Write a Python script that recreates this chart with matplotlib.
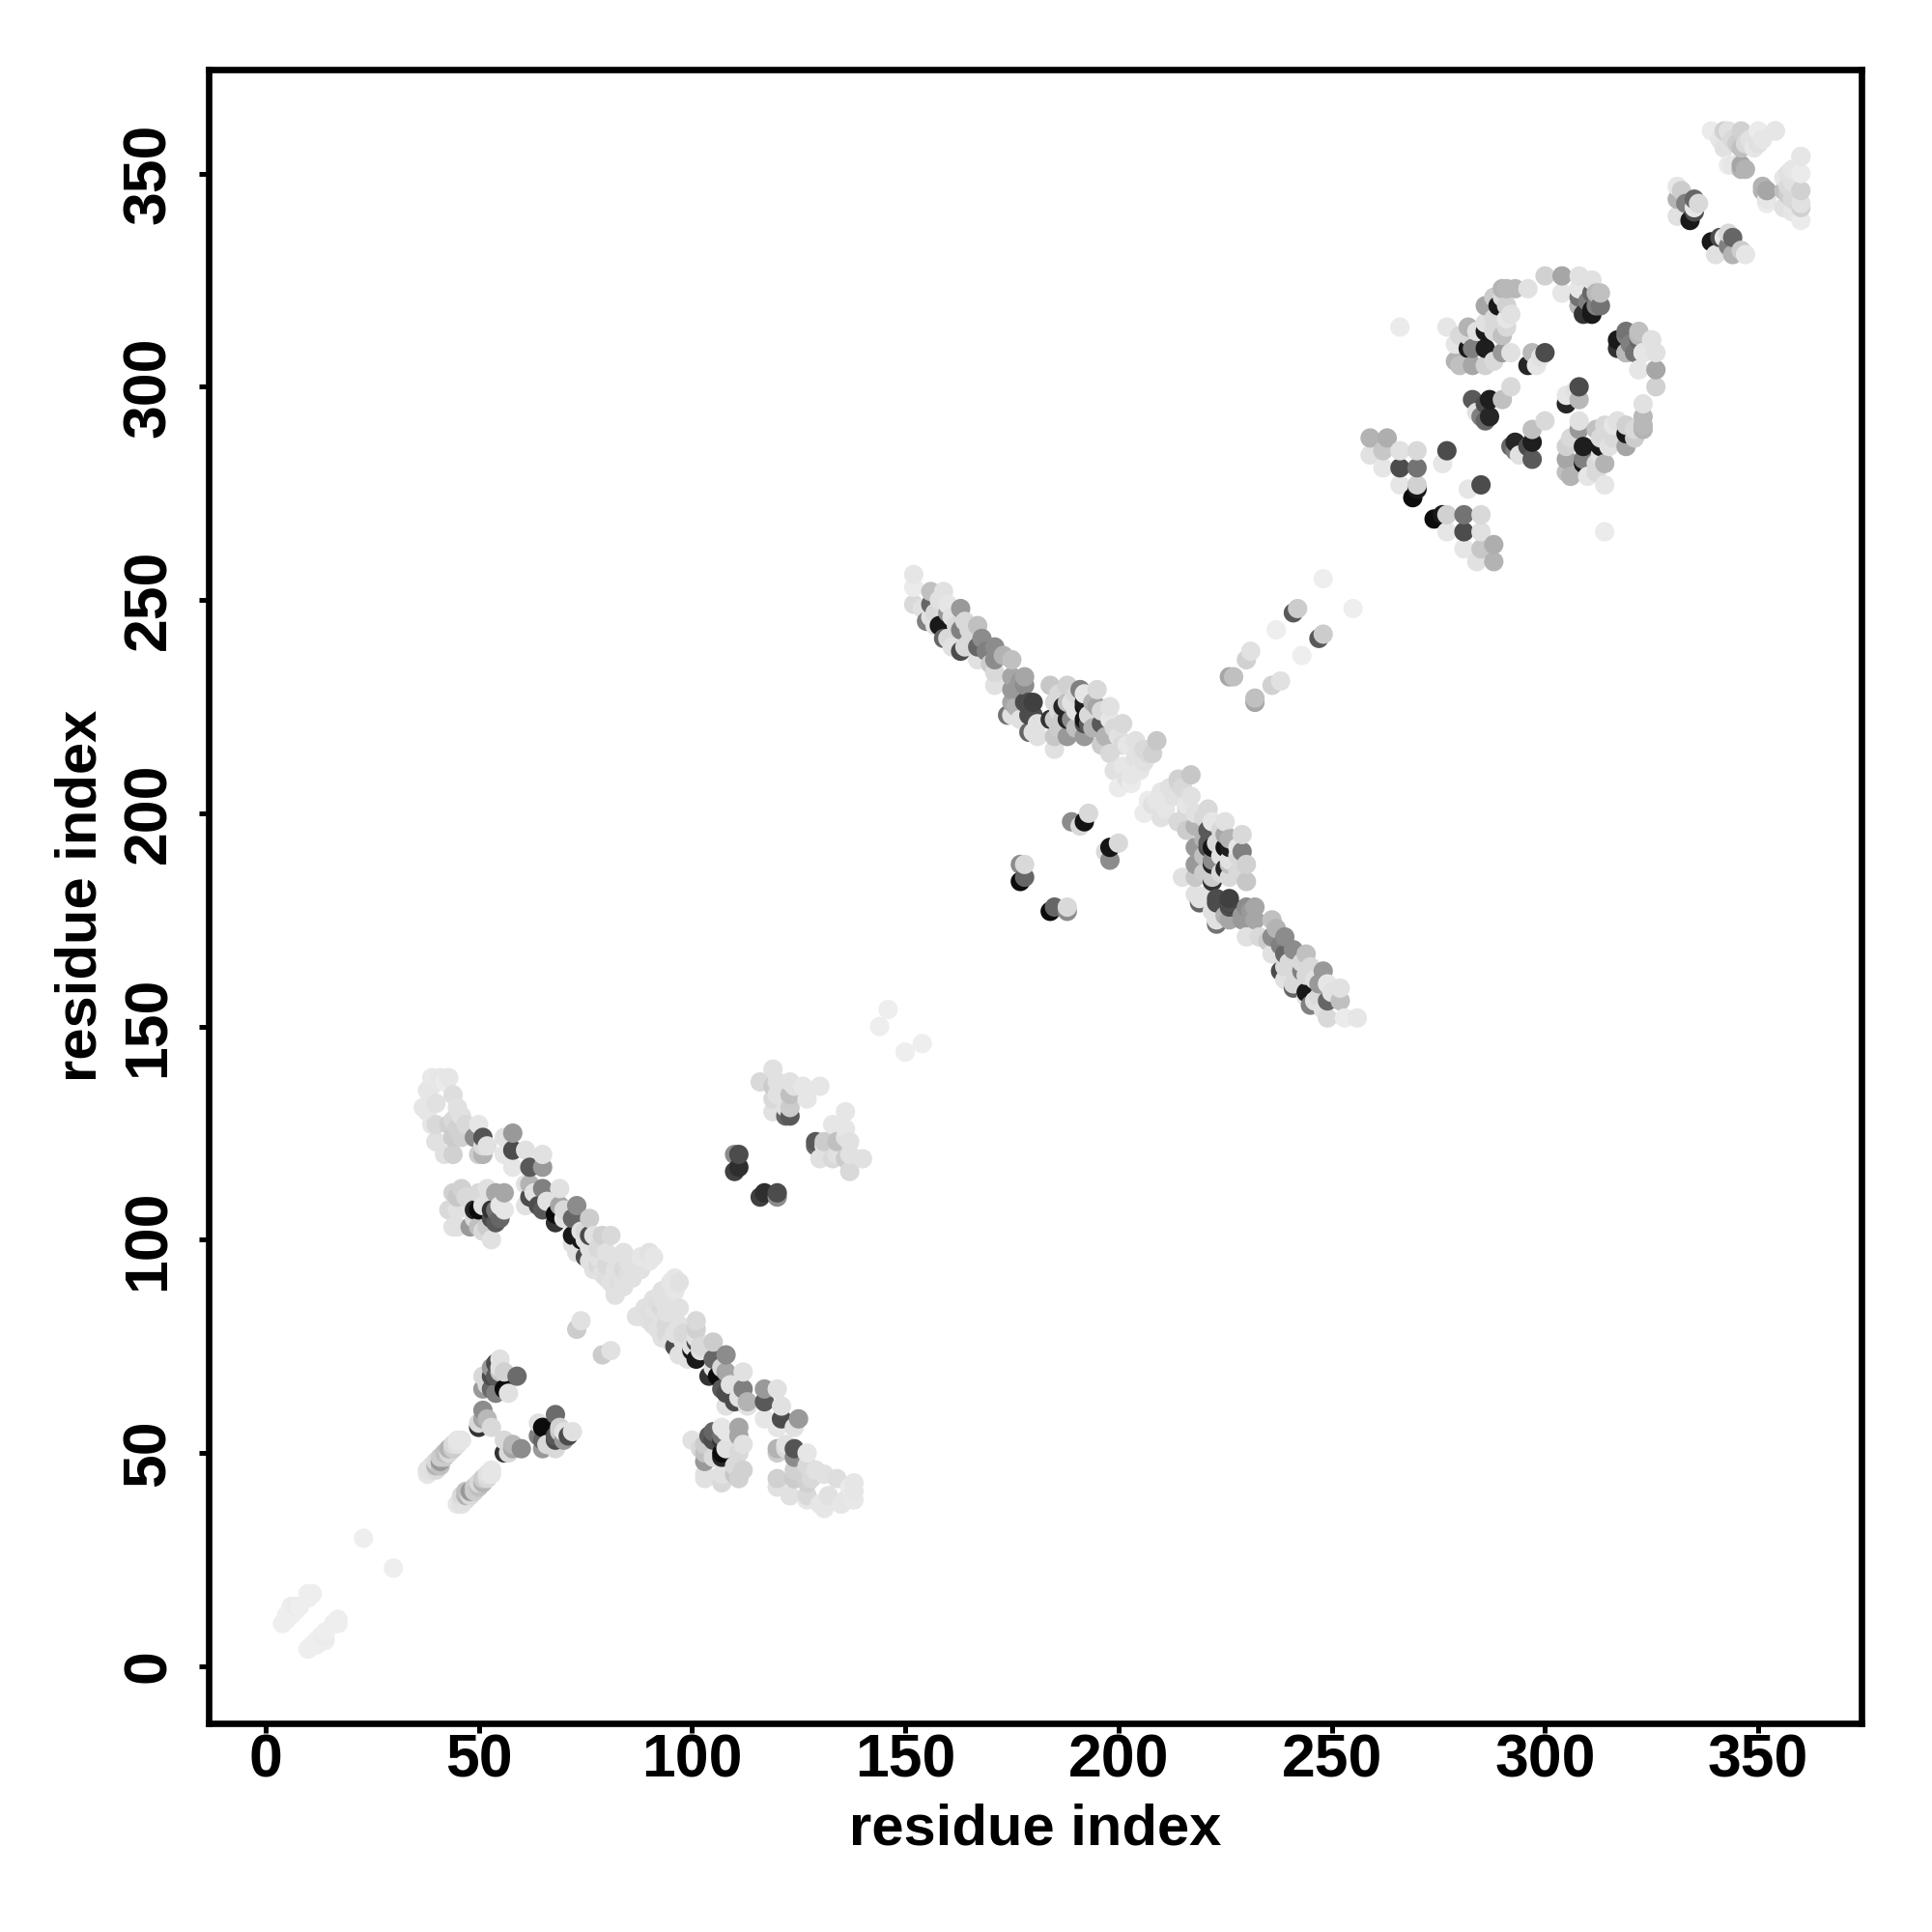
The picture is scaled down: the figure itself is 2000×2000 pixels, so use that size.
import numpy as np
import matplotlib
matplotlib.use('Agg')
import matplotlib.pyplot as plt

plt.rcParams['font.family'] = ['Liberation Sans', 'DejaVu Sans']
plt.rcParams['font.weight'] = 'bold'

# contacts (i, j, grey) with i < j, the map is symmetric so they get mirrored below
start_stripes = [(4,10,.93),(5,12,.93),(6,13,.93),(6,14,.93),(10,16,.93),(11,17,.93),(10,17,.93),(23,30,.93),
                 (5,11,.93),(6,12,.93),(7,13,.93),(7,14,.92),(8,14,.93)]

sheet_a = [(39,138,.91),(43,138,.9),(38,135,.9),(44,134,.87),(37,131,.9),(40,132,.88),(45,131,.88),
           (40,127,.85),(43,127,.82),(47,127,.85),(50,127,.9),(40,123,.9),(44,124,.78),(49,124,.55),
           (51,124,.33),(44,120,.82),(42,120,.88),(51,120,.7),(51,122,.85),(50,120,.8),(44,124,.8),
           (40,123,.88),(39,127,.9),(42,137,.92),(44,128,.85),(46,129,.88),(45,126,.82),(46,124,.82),
           (52,122,.88),(38,130,.9),(39,136,.9),(41,138,.9)]

band_a = [(58,125,.6),(56,124,.88),(58,121,.3),(61,121,.88),(65,120,.88),(56,120,.9),(62,117,.35),
          (65,117,.6),(58,117,.9),(62,113,.7),(65,112,.5),(69,112,.88),(62,110,.3),(61,108,.88),
          (65,107,.35),(69,108,.65),(73,108,.55),(68,106,.05),(72,105,.4),(76,105,.8),(68,104,.2),
          (72,101,.1),(79,101,.82),(81,101,.85),(76,101,.3),(74,100,.1),(75,96,.3),(73,97,.88),
          (78,98,.85),(84,97,.88),(91,96,.9),(88,96,.9),(80,94,.85),(82,93,.88),(86,93,.88),
          (77,93,.88),(82,88,.88),(80,91,.87),(82,87,.88),(84,89,.88),(86,91,.88),(88,93,.88),
          (90,95,.9),(90,97,.88),(83,90,.87),(85,92,.87),(75,100,.88),(64,108,.3),(61,113,.88),
          (70,107,.85),(74,102,.88),(70,105,.88),(75,102,.85),(77,101,.88),(76,98,.88),
          (63,111,.88),(66,109,.88),(72,99,.88),(78,96,.88),(80,97,.88),(83,94,.88),
          (85,95,.88),(79,92,.88),(81,90,.88),(84,91,.88),(87,94,.88),(89,96,.9),(76,95,.88),
          (78,94,.85),(84,93,.85)]

block_a = [(44,111,.82),(45,110,.78),(43,107,.85),(45,107,.88),(45,103,.88),(48,103,.6),(50,103,.75),
           (50,111,.85),(54,111,.65),(56,111,.65),(50,107,.05),(51,108,.88),(53,107,.2),(54,107,.45),
           (56,107,.9),(54,104,.35),(53,100,.88),(49,105,.85),(52,103,.8),(44,103,.88),(49,107,.15),
           (47,110,.85),(46,112,.82),(52,112,.88),(55,108,.9),(53,105,.3),(55,105,.4),(51,102,.85)]

near_a = [(55,72,.88),(54,71,.3),(51,68,.85),(56,69,.82),(54,68,.35),(59,68,.42),(51,65,.6),(54,64,.5),
          (56,65,.05),(57,64,.88),(51,60,.55),(52,58,.72),(50,56,.2),(55,69,.78),(53,68,.3),(53,65,.4),
          (51,58,.65),(46,53,.9),(44,52,.85),(42,50,.75),(40,47,.7),(38,46,.88),(45,53,.9),(41,48,.6),
          (43,51,.7),(39,47,.88),(74,81,.88),(73,79,.8),(40,48,.85),(41,49,.8),(42,49,.8),(43,50,.85),
          (44,51,.8),(45,52,.88),(39,46,.88),(40,46,.85),(38,45,.9),(41,47,.75),(52,66,.85),(53,70,.6),
          (55,70,.88),(53,56,.85),(50,57,.85)]

cross_a = [(119,140,.88),(116,137,.85),(119,136,.8),(123,137,.88),(130,136,.9),(127,133,.9),(123,134,.75),
           (119,133,.85),(119,130,.88),(123,131,.8),(122,129,.4),(123,129,.35),(111,120,.3),(111,117,.18),
           (110,116,.25),(110,120,.55),(144,150,.93),(146,154,.93),(122,131,.88),(120,134,.88),
           (124,136,.88),(126,136,.9),(120,137,.88)]

band_b = [(152,256,.9),(152,253,.92),(152,249,.85),(156,252,.75),(159,252,.88),(156,249,.4),(155,245,.5),
          (156,246,.88),(160,247,.6),(160,249,.9),(163,248,.6),(163,243,.5),(164,245,.85),(167,244,.75),
          (158,244,.1),(159,241,.4),(160,241,.85),(163,238,.3),(164,239,.85),(167,239,.4),(171,239,.55),
          (171,236,.55),(167,236,.88),(175,236,.75),(171,233,.85),(171,230,.88),(175,232,.65),(178,232,.65),
          (175,229,.6),(178,230,.55),(175,226,.65),(179,226,.2),(179,223,.3),(174,223,.45),(175,223,.88),
          (179,219,.4),(180,219,.88),(154,248,.88),(157,247,.85),(158,250,.88),(157,244,.88),(161,246,.88),
          (162,244,.85),(165,243,.85),(161,239,.88),(165,240,.85),(168,241,.55),
          (169,238,.5),(170,235,.8),(173,237,.7),
          (176,229,.6),(177,231,.6),(176,225,.7),(177,222,.88),(178,226,.3),(180,226,.25),(180,223,.3),
          (181,221,.88),(181,218,.88)]

block_b = [(184,230,.78),(188,230,.82),(191,229,.5),(192,228,.9),(195,229,.85),(185,226,.85),(188,226,.75),
           (187,225,.15),(192,225,.08),(195,225,.65),(198,225,.88),(184,222,.2),(189,222,.55),(192,221,.3),
           (188,218,.6),(192,218,.6),(185,218,.78),(185,215,.88),(196,221,.35),(198,222,.9),(201,221,.85),
           (197,218,.7),(198,214,.85),(201,216,.85),(204,217,.88),(209,217,.78),(208,214,.82),(204,213,.88),
           (204,210,.9),(202,208,.88),(200,206,.92),(203,209,.9),(206,212,.88),(192,226,.12),(188,222,.15),
           (185,222,.8),(192,222,.08),(179,226,.3),(186,228,.85),(187,222,.8),(190,228,.85),(190,224,.88),
           (193,223,.85),(194,220,.7),(190,220,.75),(194,226,.7),(186,224,.85),(186,220,.8),(189,226,.88),
           (193,221,.35),(196,224,.85),(199,220,.85),(196,216,.8),(200,218,.88),(202,216,.9),
           (206,215,.85),(207,214,.85),(201,211,.9),(199,210,.88),(203,207,.92),(205,210,.9)]

cross_b = [(178,188,.85),(177,188,.55),(178,185,.4),(177,184,.05),(193,200,.85),(189,198,.55),(192,198,.08),
           (191,197,.85),(248,255,.93),(242,248,.8),(241,247,.35),(237,243,.93),(231,238,.88),(230,236,.82),
           (227,232,.75),(226,232,.65)]

domain_c = [(266,314,.92),(277,314,.9),(279,310,.9),(279,306,.7),(283,309,.5),(282,309,.1),(283,305,.65),
            (286,309,.12),(286,305,.82),(282,314,.7),(284,313,.88),(286,315,.88),(286,319,.65),(291,323,.72),
            (290,323,.7),(293,323,.72),(291,319,.82),(289,319,.1),(289,314,.85),(291,316,.9),(290,312,.75),
            (286,313,.1),(290,308,.6),(292,308,.88),(296,323,.88),(300,326,.82),(304,326,.65),(308,326,.88),
            (311,325,.9),(304,322,.92),(308,323,.88),(308,319,.65),(308,321,.45),(311,322,.4),(313,322,.75),
            (313,319,.45),(311,318,.1),(297,308,.72),(300,308,.3),(298,305,.9),(296,305,.15),(259,288,.7),
            (263,288,.68),(259,284,.88),(262,285,.78),(262,281,.9),(266,285,.88),(270,285,.85),(266,281,.3),
            (270,281,.45),(266,277,.9),(270,277,.82),(270,276,.1),(269,274,.05),(277,285,.3),(276,282,.9),
            (283,297,.35),(287,297,.12),(290,297,.75),(292,300,.85),(284,294,.88),(287,293,.15),(286,292,.4),
            (312,319,.5),(312,322,.72),(311,325,.88),(308,323,.9),(304,322,.9),(308,319,.72),(311,317,.1),
            (280,312,.85),(288,316,.85),(288,321,.8),(288,313,.85),(290,321,.85),(291,314,.85),(292,317,.88),
            (288,306,.85),(299,307,.88),(285,293,.5),(286,296,.3),
            (310,320,.5),(309,317,.2),(282,312,.85),(280,305,.75)]

domain_d = [(339,360,.92),(342,360,.82),(343,360,.88),(346,360,.82),(350,360,.92),(354,360,.9),(342,356,.88),
            (346,356,.75),(343,352,.92),(346,351,.7),(346,352,.65),(349,356,.9),(350,357,.88),(354,360,.9),
            (331,347,.9),(331,344,.7),(335,344,.4),(335,342,.9),(335,341,.3),(334,339,.1),(331,340,.88),
            (344,358,.85),(345,357,.8),(347,357,.85),(348,358,.88),(351,358,.9),(341,358,.9),(344,352,.9),
            (347,351,.7),(333,343,.5),(336,343,.85),(332,346,.8)]

groups = [start_stripes, sheet_a, band_a, block_a, near_a, cross_a,
          band_b, block_b, cross_b, domain_c, domain_d]
contacts = np.array([row for g in groups for row in g])

i, j, grey = contacts.T
x = np.concatenate([i, j])
y = np.concatenate([j, i])
grey = np.concatenate([grey, grey])
order = np.lexsort((y, x))

fig = plt.figure(figsize=(10, 10), dpi=200)
ax = fig.add_axes([216/2000, 1-1784/2000, (1927-216)/2000, (1784-71.5)/2000])

ax.scatter(x[order], y[order], c=grey[order], cmap='gray', vmin=0, vmax=1, s=52, linewidths=0)

ax.set_xlim(-13.3, 374.2)
ax.set_ylim(-13.4, 374.5)
ticks = [0, 50, 100, 150, 200, 250, 300, 350]
ax.set_xticks(ticks)
ax.set_yticks(ticks)
ax.tick_params(length=3.5, width=1.8, labelsize=22.5)
ax.tick_params(axis='x', pad=0)
ax.tick_params(axis='y', pad=8)
for lab in ax.get_yticklabels():
    lab.set_rotation(90)
    lab.set_va('center')
for sp in ax.spines.values():
    sp.set_linewidth(2.4)

ax.set_xlabel('residue index', fontsize=21.5, fontweight='bold', labelpad=5)
ax.set_ylabel('residue index', fontsize=21.5, fontweight='bold', labelpad=5)

plt.savefig('out.png', dpi=200)
